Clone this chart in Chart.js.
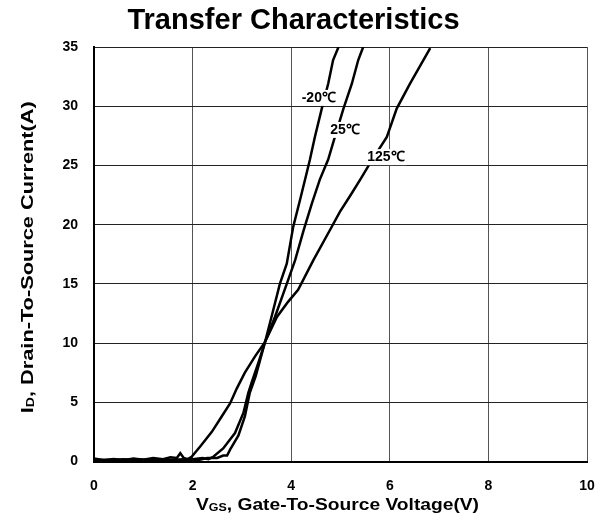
<!DOCTYPE html>
<html>
<head>
<meta charset="utf-8">
<script src="https://cdn.jsdelivr.net/npm/chart.js@4/dist/chart.umd.min.js"></script>
<style>
  html, body { margin: 0; padding: 0; background: #fff; }
  #wrap { width: 605px; height: 522px; }
</style>
</head>
<body>
<div id="wrap"><canvas id="c" width="605" height="522"></canvas></div>
<script>
// Gate voltage (V) and drain current (A) samples for each temperature
const vgsCold = [0, 0.3, 0.6, 0.9, 1.2, 1.5, 1.8, 2.1, 2.3, 2.5, 2.62, 2.7, 2.76, 2.93, 3.06, 3.16, 3.28, 3.47, 3.6, 3.77, 3.91, 4.04, 4.18, 4.31, 4.38, 4.48, 4.62, 4.75, 4.85, 4.96];
const idCold  = [0.15, 0.1, 0.2, 0.1, 0.15, 0.1, 0.2, 0.1, 0.3, 0.3, 0.5, 0.5, 1.0, 2.2, 3.8, 5.8, 7.2, 10.1, 12.2, 15.0, 16.7, 19.8, 22.1, 24.3, 25.5, 27.4, 29.8, 31.9, 33.9, 35];

const vgsRoom = [0, 0.3, 0.6, 0.9, 1.2, 1.5, 1.8, 2.0, 2.2, 2.32, 2.42, 2.62, 2.86, 3.03, 3.13, 3.2, 3.34, 3.47, 3.67, 3.91, 4.08, 4.25, 4.42, 4.58, 4.75, 4.85, 5.06, 5.23, 5.36, 5.46];
const idRoom  = [0.1, 0.15, 0.1, 0.2, 0.1, 0.15, 0.1, 0.2, 0.3, 0.2, 0.4, 1.1, 2.4, 4.1, 5.8, 6.7, 8.4, 10.1, 12.2, 15.0, 17.0, 19.5, 21.8, 23.8, 25.5, 26.9, 29.8, 31.9, 33.9, 35];

const vgsHot = [0, 0.2, 0.4, 0.6, 0.8, 1.0, 1.2, 1.4, 1.55, 1.68, 1.75, 1.82, 1.9, 1.98, 2.15, 2.39, 2.59, 2.76, 2.9, 3.06, 3.27, 3.47, 3.71, 3.94, 4.14, 4.45, 4.82, 4.99, 5.19, 5.40, 5.60, 5.94, 6.14, 6.41, 6.82];
const idHot  = [0.25, 0.1, 0.2, 0.1, 0.25, 0.15, 0.3, 0.2, 0.35, 0.3, 0.7, 0.3, 0.2, 0.4, 1.25, 2.5, 3.8, 4.9, 6.2, 7.5, 8.9, 10.1, 12.2, 13.5, 14.5, 17.0, 19.8, 21.1, 22.4, 23.8, 25.2, 27.4, 29.8, 31.9, 34.9];

// Curve tags and where they sit (data coordinates)
const tagText = ['-20\u2103', '25\u2103', '125\u2103'];
const tagX    = [4.56, 5.09, 5.92];
const tagY    = [30.7, 28.0, 25.7];

const xTicks = [0, 2, 4, 6, 8, 10];
const yTicks = [0, 5, 10, 15, 20, 25, 30, 35];

const FONT = '"Liberation Sans", Arial, Helvetica, sans-serif';

function pts(xs, ys) { return xs.map((x, i) => ({ x: x, y: ys[i] })); }

// Temperature tags with a white backing box over the grid
const curveTags = {
  id: 'curveTags',
  afterDatasetsDraw(chart) {
    const ctx = chart.ctx, xs = chart.scales.x, ys = chart.scales.y;
    ctx.save();
    ctx.font = 'bold 14px ' + FONT;
    ctx.textAlign = 'center';
    ctx.textBaseline = 'middle';
    tagText.forEach((t, i) => {
      const px = xs.getPixelForValue(tagX[i]);
      const py = ys.getPixelForValue(tagY[i]);
      const w = ctx.measureText(t).width;
      ctx.fillStyle = '#fff';
      ctx.fillRect(px - w / 2 - 2, py - 8, w + 4, 16);
      ctx.fillStyle = '#000';
      ctx.fillText(t, px, py);
    });
    ctx.restore();
  }
};

// Axis titles with subscripted symbols; stretch widens the run along its baseline
function drawRich(ctx, parts, cx, cy, stretch) {
  let total = 0;
  parts.forEach(p => { ctx.font = 'bold ' + p.size + 'px ' + FONT; total += ctx.measureText(p.t).width; });
  ctx.save();
  ctx.translate(cx, cy);
  ctx.scale(stretch, 1);
  let x = -total / 2;
  parts.forEach(p => {
    ctx.font = 'bold ' + p.size + 'px ' + FONT;
    ctx.fillText(p.t, x, p.dy || 0);
    x += ctx.measureText(p.t).width;
  });
  ctx.restore();
}
const axisTitles = {
  id: 'axisTitles',
  afterDraw(chart) {
    const ctx = chart.ctx, a = chart.chartArea;
    ctx.save();
    ctx.fillStyle = '#000';
    ctx.textAlign = 'left';
    ctx.textBaseline = 'alphabetic';
    drawRich(ctx, [
      { t: 'V', size: 17 },
      { t: 'GS', size: 11, dy: 1 },
      { t: ', Gate-To-Source Voltage(V)', size: 17 }
    ], (a.left + a.right) / 2 - 3, 510, 1.13);
    ctx.translate(33, (a.top + a.bottom) / 2 + 3);
    ctx.rotate(-Math.PI / 2);
    drawRich(ctx, [
      { t: 'I', size: 17 },
      { t: 'D', size: 11, dy: 1 },
      { t: ', Drain-To-Source Current(A)', size: 17 }
    ], 0, 0, 1.28);
    ctx.restore();
  }
};

const lineStyle = { borderColor: '#000', borderWidth: 2.5, pointRadius: 0, tension: 0, fill: false, showLine: true };

new Chart(document.getElementById('c'), {
  type: 'scatter',
  data: {
    datasets: [
      Object.assign({ label: tagText[0], data: pts(vgsCold, idCold) }, lineStyle),
      Object.assign({ label: tagText[1], data: pts(vgsRoom, idRoom) }, lineStyle),
      Object.assign({ label: tagText[2], data: pts(vgsHot, idHot) }, lineStyle)
    ]
  },
  options: {
    responsive: false,
    animation: false,
    devicePixelRatio: 1,
    layout: { padding: { left: 0, right: 18, top: 0, bottom: 0 } },
    plugins: {
      legend: { display: false },
      tooltip: { enabled: false },
      title: {
        display: true,
        text: 'Transfer Characteristics',
        color: '#000',
        font: { family: FONT, size: 29, weight: 'bold' },
        padding: { top: 4, bottom: 8.2 }
      }
    },
    scales: {
      x: {
        type: 'linear', min: 0, max: 10,
        afterBuildTicks(s) { s.ticks = xTicks.map(v => ({ value: v })); },
        afterFit(s) { s.height = 60.5; s.paddingLeft = 0; s.paddingRight = 0; },
        ticks: { color: '#000', font: { family: FONT, size: 14, weight: 'bold' }, padding: 16 },
        grid: { color: '#555', lineWidth: 1, drawTicks: false },
        border: { color: '#000', width: 2 }
      },
      y: {
        type: 'linear', min: 0, max: 35,
        afterBuildTicks(s) { s.ticks = yTicks.map(v => ({ value: v })); },
        afterFit(s) { s.width = 94; },
        ticks: { color: '#000', font: { family: FONT, size: 14, weight: 'bold' }, padding: 16 },
        grid: { color: '#222', lineWidth: 1, drawTicks: false },
        border: { color: '#000', width: 2 }
      }
    }
  },
  plugins: [curveTags, axisTitles]
});
</script>
</body>
</html>
